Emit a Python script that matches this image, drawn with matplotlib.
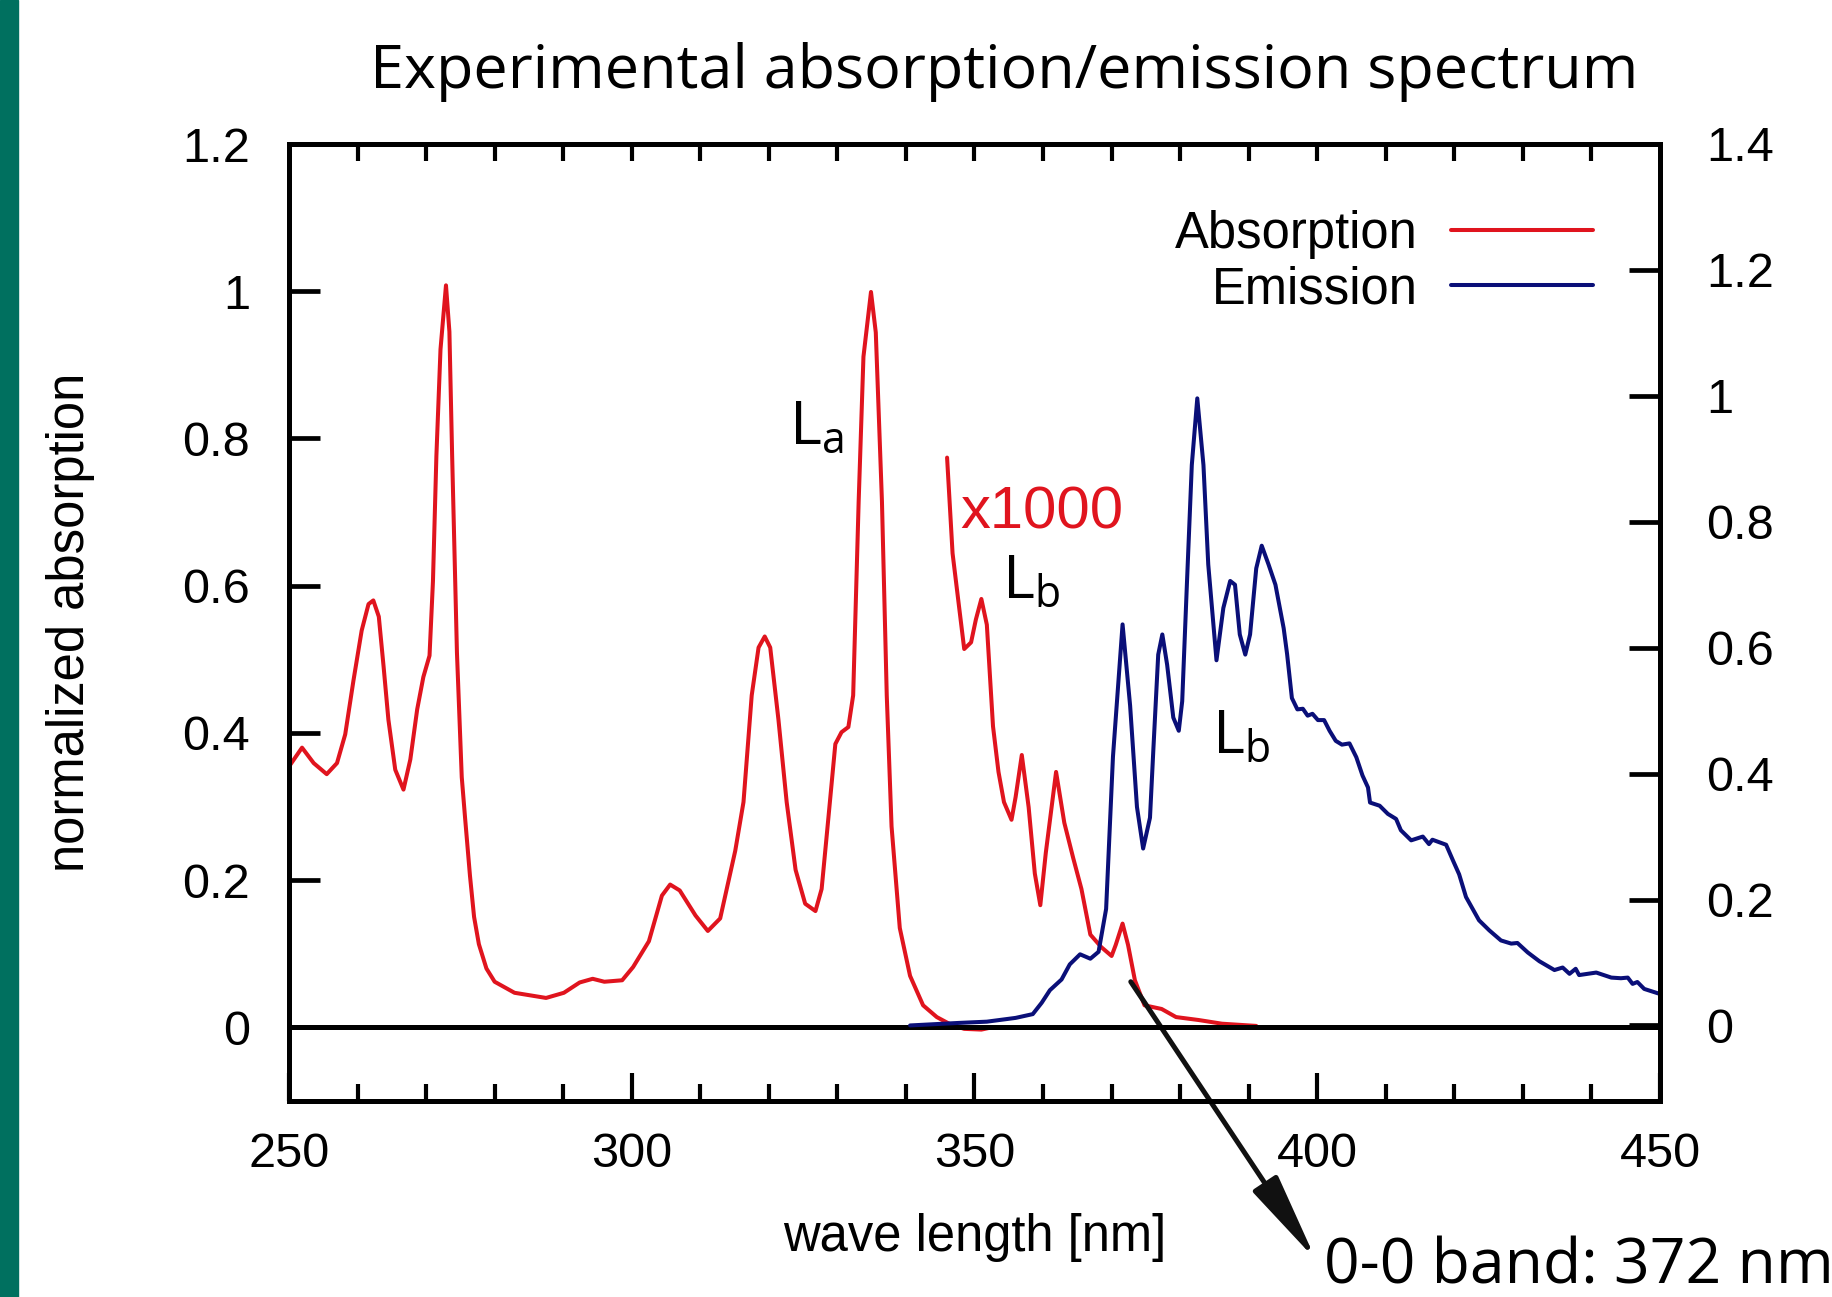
import numpy as np
import matplotlib
matplotlib.use("Agg")
import matplotlib.pyplot as plt
from matplotlib.patches import Rectangle

# absorption spectrum (left axis)
abs_nm = [250.2, 251.9, 253.6, 255.5, 257.0, 258.2, 259.4, 260.6, 261.6, 262.3, 263.1, 263.8,
          264.5, 265.5, 266.7, 267.7, 268.7, 269.6, 270.5, 271.0, 271.5, 272.1, 272.9, 273.4,
          273.8, 274.5, 275.2, 275.7, 276.4, 277.0, 277.7, 278.8, 280.0, 282.9, 287.5, 290.1,
          292.4, 294.3, 296.0, 298.6, 300.2, 302.5, 304.4, 305.6, 307.0, 309.3, 311.1, 312.9,
          315.1, 316.3, 317.5, 318.5, 319.4, 320.2, 321.4, 322.6, 323.9, 325.3, 326.8, 327.7,
          328.7, 329.7, 330.6, 331.6, 332.3, 333.1, 333.8, 334.9, 335.6, 336.5, 337.2, 337.9,
          339.1, 340.6, 342.5, 344.5, 346.5, 348.5, 351.0, 352.5]
abs_val = [0.357, 0.380, 0.359, 0.344, 0.359, 0.398, 0.471, 0.539, 0.575, 0.580, 0.558, 0.490,
           0.418, 0.350, 0.323, 0.364, 0.432, 0.476, 0.505, 0.606, 0.776, 0.921, 1.008, 0.945,
           0.776, 0.509, 0.340, 0.283, 0.206, 0.150, 0.113, 0.080, 0.062, 0.047, 0.040, 0.047,
           0.061, 0.066, 0.062, 0.064, 0.082, 0.117, 0.179, 0.194, 0.186, 0.152, 0.131, 0.148,
           0.240, 0.306, 0.451, 0.516, 0.531, 0.516, 0.418, 0.306, 0.214, 0.168, 0.158, 0.188,
           0.286, 0.385, 0.401, 0.408, 0.451, 0.714, 0.911, 0.999, 0.944, 0.714, 0.451, 0.273,
           0.135, 0.070, 0.030, 0.014, 0.004, -0.002, -0.003, 0.0]

# absorption x1000 (left axis)
abs1000_nm = [346.0, 346.8, 347.7, 348.5, 349.5, 350.2, 351.0, 351.8, 352.7, 353.5, 354.3,
              355.4, 356.0, 356.9, 357.9, 358.8, 359.6, 360.4, 361.9, 363.1, 364.4, 365.6,
              366.9, 368.5, 370.0, 370.6, 371.6, 372.4, 373.4, 374.8, 377.3, 379.4, 382.7,
              386.1, 391.1]
abs1000_val = [0.774, 0.644, 0.575, 0.514, 0.523, 0.554, 0.582, 0.547, 0.409, 0.347, 0.306,
               0.282, 0.313, 0.370, 0.299, 0.209, 0.166, 0.237, 0.347, 0.278, 0.230, 0.188,
               0.126, 0.109, 0.097, 0.112, 0.141, 0.112, 0.064, 0.030, 0.025, 0.014, 0.010,
               0.005, 0.002]

# emission spectrum (right axis)
em_nm = [340.6, 347.7, 351.8, 356.0, 358.5, 359.8, 361.0, 362.7, 363.9, 365.4, 366.9, 368.1,
         369.2, 370.2, 371.6, 372.7, 373.7, 374.6, 375.6, 376.1, 376.8, 377.4, 378.1, 379.0,
         379.8, 380.3, 381.0, 381.7, 382.5, 383.4, 384.1, 385.3, 386.3, 387.3, 388.0, 388.7,
         389.5, 390.2, 391.1, 391.9, 392.9, 393.9, 395.1, 395.6, 396.3, 397.1, 397.9, 398.6,
         399.3, 400.1, 401.0, 401.8, 402.7, 403.6, 404.7, 405.7, 406.6, 407.4, 407.7, 409.1,
         410.3, 411.5, 412.2, 413.7, 415.4, 416.3, 416.8, 418.8, 419.8, 420.7, 421.7, 423.6,
         425.1, 426.8, 428.3, 429.2, 430.7, 432.4, 434.6, 435.8, 436.8, 437.7, 438.2, 440.7,
         442.9, 444.3, 445.3, 446.0, 446.7, 447.7, 450.0]
em_val = [0.0, 0.004, 0.006, 0.012, 0.018, 0.036, 0.056, 0.073, 0.097, 0.113, 0.106, 0.117,
          0.185, 0.427, 0.637, 0.508, 0.347, 0.281, 0.330, 0.440, 0.589, 0.621, 0.573, 0.489,
          0.468, 0.515, 0.705, 0.890, 0.996, 0.890, 0.732, 0.580, 0.663, 0.706, 0.700, 0.621,
          0.589, 0.621, 0.726, 0.762, 0.732, 0.700, 0.631, 0.590, 0.520, 0.502, 0.503, 0.492,
          0.495, 0.485, 0.485, 0.468, 0.452, 0.446, 0.448, 0.426, 0.397, 0.378, 0.354, 0.349,
          0.336, 0.328, 0.310, 0.294, 0.300, 0.288, 0.295, 0.287, 0.262, 0.240, 0.204, 0.167,
          0.151, 0.135, 0.130, 0.131, 0.116, 0.102, 0.088, 0.092, 0.082, 0.090, 0.080, 0.084,
          0.076, 0.075, 0.076, 0.066, 0.069, 0.058, 0.050]

left_ticks = [0, 0.2, 0.4, 0.6, 0.8, 1.0, 1.2]
left_labels = ["0", "0.2", "0.4", "0.6", "0.8", "1", "1.2"]
right_ticks = [0, 0.2, 0.4, 0.6, 0.8, 1.0, 1.2, 1.4]
right_labels = ["0", "0.2", "0.4", "0.6", "0.8", "1", "1.2", "1.4"]

RED = "#e0141e"
BLUE = "#0a0f78"
W, H = 1833, 1297

plt.rcParams['font.family'] = ['Liberation Sans', 'DejaVu Sans']
fig = plt.figure(figsize=(W / 100, H / 100), dpi=100)
fig.patches.append(Rectangle((0, 0), 18 / W, 1, transform=fig.transFigure,
                             color="#00705f", zorder=0))

ax = fig.add_axes([289 / W, 1 - 1101 / H, (1660 - 289) / W, (1101 - 144) / H])
ax2 = ax.twinx()

kw = dict(lw=2.9, solid_joinstyle="round", solid_capstyle="round")
l_abs, = ax.plot(abs_nm, abs_val, color=RED, label="Absorption", **kw)
ax.plot(abs1000_nm, abs1000_val, color=RED, **kw)
l_em, = ax2.plot(em_nm, em_val, color=BLUE, label="Emission", **kw)
ax.axhline(0, color="black", lw=3.6, zorder=5)

ax.set_xlim(250, 450)
ax.set_ylim(-0.1, 1.2)
ax2.set_ylim(-0.12, 1.4)

ax.set_xticks([250, 300, 350, 400, 450])
ax.set_xticks(np.arange(260, 450, 10), minor=True)
ax.set_yticks(left_ticks)
ax.set_yticklabels(left_labels)
ax2.set_yticks(right_ticks)
ax2.set_yticklabels(right_labels)

ax.tick_params(axis="x", which="major", direction="in", length=20, width=3, labelsize=35, pad=22)
ax.tick_params(axis="x", which="minor", direction="in", length=12, width=3)
ax.tick_params(axis="y", direction="in", length=22, width=3.4, labelsize=35, pad=28)
ax2.tick_params(axis="y", direction="in", length=22, width=3.4, labelsize=35, pad=33)

top = ax.secondary_xaxis("top")
top.set_xticks(np.arange(260, 450, 10))
top.tick_params(direction="in", length=12, width=3, labeltop=False)
top.spines["top"].set_linewidth(3.6)

for a in (ax, ax2):
    for s in a.spines.values():
        s.set_linewidth(3.6)

ax.set_xlabel("wave length [nm]", fontsize=36.5, labelpad=26)
ax.set_ylabel("normalized absorption", fontsize=36.5, labelpad=63)

fig.text(1004 / W, 1 - 72 / H, "Experimental absorption/emission spectrum",
         family="Open Sans", fontsize=44, ha="center", va="center")

# peak labels
ax.text(323.0, 0.792, r"L$_\mathregular{a}$", family="Open Sans", fontsize=44, va="baseline")
ax.text(354.0, 0.583, r"L$_\mathregular{b}$", family="Open Sans", fontsize=44, va="baseline")
ax.text(384.7, 0.372, r"L$_\mathregular{b}$", family="Open Sans", fontsize=44, va="baseline")
ax.text(348.0, 0.678, "x1000", color=RED, fontsize=43, va="baseline")

ax.legend(handles=[l_abs, l_em], loc="upper right", markerfirst=False, frameon=False,
          fontsize=36.5, handlelength=2.8, handletextpad=0.65, labelspacing=0.12,
          borderpad=0, borderaxespad=0,
          bbox_to_anchor=(1593 / W, 1 - 210 / H), bbox_transform=fig.transFigure)

ax.annotate("", xy=(1316 / W, 1 - 1260 / H), xycoords="figure fraction",
            xytext=(372.8, 0.062), textcoords="data", annotation_clip=False,
            arrowprops=dict(arrowstyle="-|>,head_length=1.7,head_width=0.28",
                            mutation_scale=32, color="#111111", lw=3.6,
                            shrinkA=0, shrinkB=0))
fig.text(1324 / W, 1 - 1283 / H, "0-0 band: 372 nm", family="Open Sans",
         fontsize=45, ha="left", va="baseline")

fig.savefig("out.png", dpi=100)
